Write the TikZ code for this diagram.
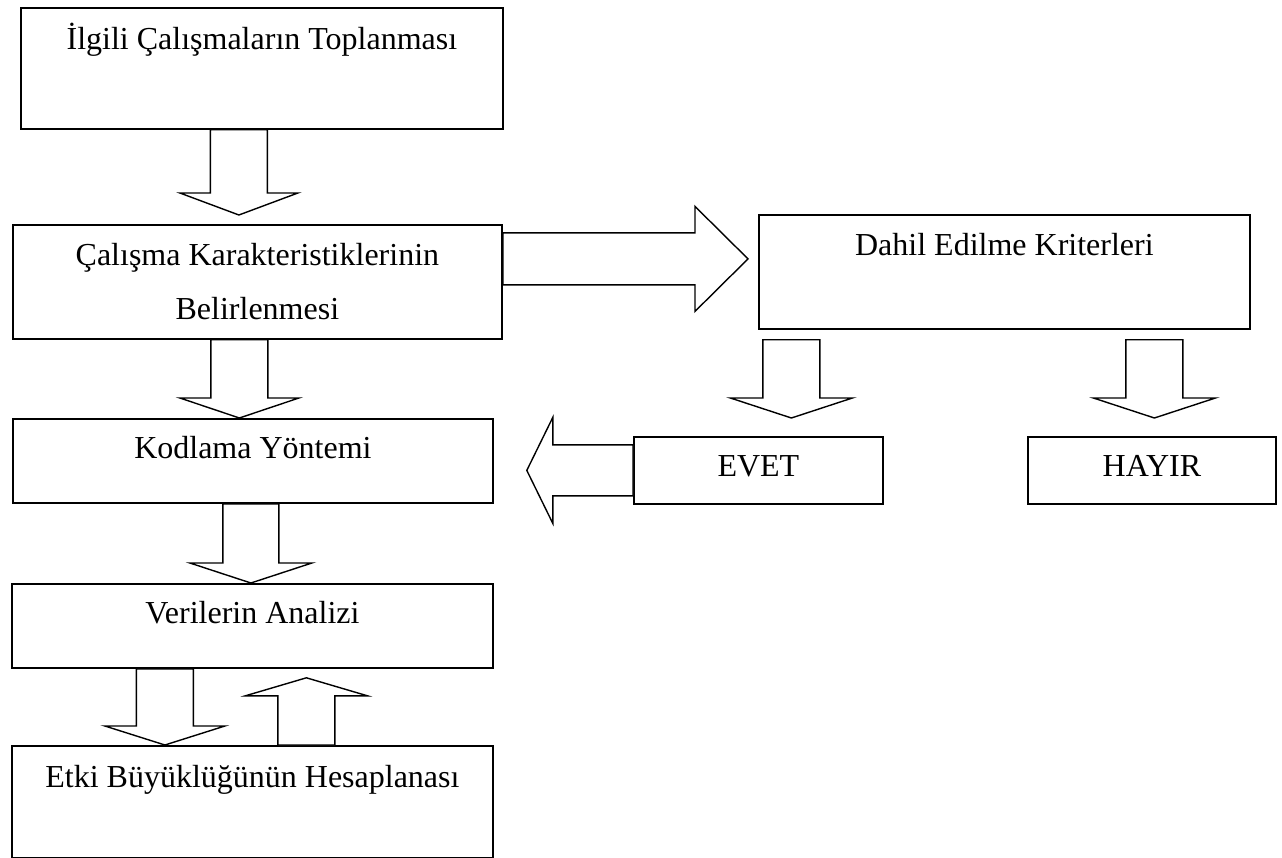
\documentclass[tikz,border=0pt]{standalone}
\usepackage{fontspec}
\setmainfont{Liberation Serif}
\usetikzlibrary{calc,positioning}

\begin{document}
\begin{tikzpicture}[
    x=1pt, y=-1pt,
    box/.style={draw, line width=1.8pt, anchor=north west, inner sep=0pt, align=center,
      font=\fontsize{32}{54}\selectfont},
    raised/.style={text height=24pt, text depth=#1},
    blockarrow/.style args={#1/#2/#3}{draw, line width=1.4pt, fill=white, to path={
      let \p1=(\tikztostart), \p2=(\tikztotarget), \p3=($(\p2)!#3!(\p1)$) in
      ($(\p1)!#1!90:(\p2)$) -- ($(\p3)!#1!-90:(\p1)$) -- ($(\p3)!#2!-90:(\p1)$)
      -- (\p2) -- ($(\p3)!#2!90:(\p1)$) -- ($(\p3)!#1!90:(\p1)$)
      -- ($(\p1)!#1!-90:(\p2)$) -- cycle}},
]
\useasboundingbox (0,0) rectangle (1282,858);

% Main steps on the left
\node[box, minimum width=482pt, minimum height=121pt, raised=62pt] (collect) at (20,7) {İlgili Çalışmaların Toplanması};
\node[box, minimum width=489pt, minimum height=114pt] (charact) at (12,224) {Çalışma Karakteristiklerinin\\Belirlenmesi};
\node[box, minimum width=480pt, minimum height=84pt, raised=28pt] (coding) at (12,418) {Kodlama Yöntemi};
\node[box, minimum width=481pt, minimum height=84pt, raised=28pt] (analysis) at (11,583) {Verilerin Analizi};
\node[box, minimum width=481pt, minimum height=112pt, raised=52pt] (effect) at (11,745) {Etki Büyüklüğünün Hesaplanası};

% Inclusion branch
\node[box, minimum width=491pt, minimum height=114pt, raised=56pt] (criteria) at (758,214) {Dahil Edilme Kriterleri};
\node[box, minimum width=249pt, minimum height=67pt, raised=11pt] (yes) at (633,436) {EVET};
\node[box, minimum width=248pt, minimum height=67pt, raised=11pt] (no) at (1027,436) {HAYIR};

% Block arrows down the left column
\draw[blockarrow=28.5pt/59pt/22pt] ([xshift=-23pt]collect.south) to ([xshift=-18.5pt,yshift=9pt]charact.north);
\draw[blockarrow=28.5pt/59.5pt/20pt] ([xshift=-18pt]charact.south) to ([xshift=-13.5pt]coding.north);
\draw[blockarrow=28pt/61pt/20pt] ([xshift=-2pt]coding.south) to ([xshift=-1.5pt]analysis.north);
\draw[blockarrow=28.5pt/60pt/19pt] ([xshift=-87.5pt]analysis.south) to ([xshift=-87.5pt]effect.north);
\draw[blockarrow=28.5pt/61pt/18pt] ([xshift=54pt]effect.north) to ([xshift=54pt,yshift=-9pt]analysis.south);

% Block arrows of the branch
\draw[blockarrow=26pt/52.5pt/53pt] ([yshift=23pt]charact.east) to ([xshift=-10pt,yshift=13pt]criteria.west);
\draw[blockarrow=28.5pt/61pt/20pt] ([xshift=-213pt,yshift=-10pt]criteria.south) to ([xshift=33pt,yshift=18pt]yes.north);
\draw[blockarrow=28.5pt/61pt/20pt] ([xshift=150pt,yshift=-10pt]criteria.south) to ([xshift=2.5pt,yshift=18pt]no.north);
\draw[blockarrow=25.5pt/53pt/26pt] (yes.west) to ([xshift=33pt,yshift=-9.5pt]coding.east);

\end{tikzpicture}
\end{document}
